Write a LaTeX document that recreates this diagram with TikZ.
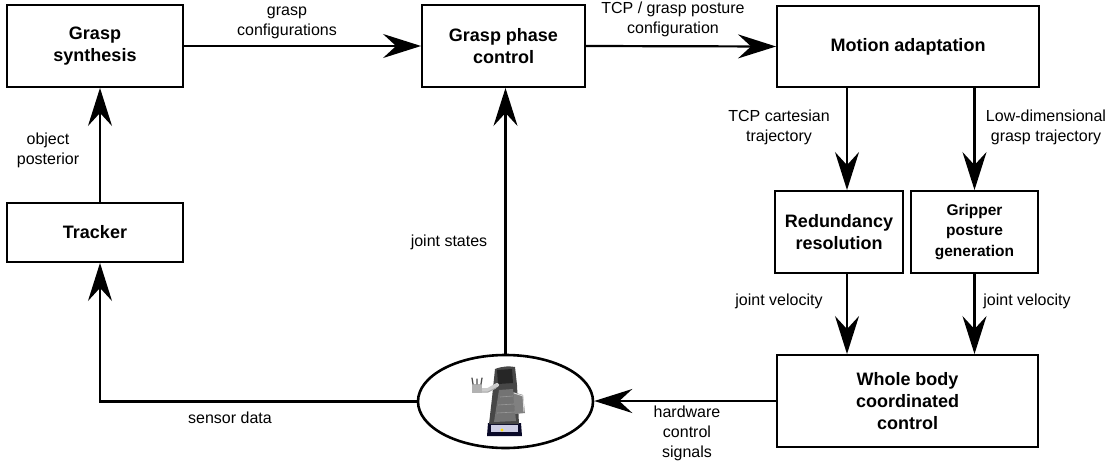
\documentclass[tikz,border=0pt]{standalone}
\usepackage{fontspec}
\setmainfont{Liberation Sans}
\usetikzlibrary{arrows.meta,shapes.geometric,calc}

\tikzset{
  block/.style={draw=black, line width=1.9pt, fill=white, align=center,
    inner sep=2pt, font=\fontsize{18}{22}\selectfont\bfseries},
  smallblock/.style={block, font=\fontsize{15.5}{20.5}\selectfont\bfseries},
  lbl/.style={align=center, inner sep=0pt, font=\fontsize{16}{20}\selectfont},
  arr/.style={line width=2.2pt, -{Stealth[length=38pt,width=24pt,inset=13pt]}},
}

\begin{document}
\begin{tikzpicture}[x=1pt, y=-1pt]
\useasboundingbox (0,0) rectangle (1120,466);

% processing blocks
\node[block, minimum width=176pt, minimum height=82pt] (synth) at (95,46) {Grasp\\synthesis};
\node[block, minimum width=163pt, minimum height=82pt] (phase) at (503.5,46) {Grasp phase\\control};
\node[block, minimum width=262pt, minimum height=81pt] (motion) at (908,46.5) {Motion adaptation};
\node[block, minimum width=176pt, minimum height=59pt] (tracker) at (95,232.5) {Tracker};
\node[block, minimum width=128pt, minimum height=82pt] (redund) at (839,232) {Redundancy\\resolution};
\node[smallblock, minimum width=127pt, minimum height=82pt] (gripper) at (974.5,232) {Gripper\\posture\\generation};
\node[block, minimum width=261pt, minimum height=92pt] (whole) at (907.5,401) {Whole body\\coordinated\\control};

% robot platform
\node[draw=black, line width=2.6pt, ellipse, minimum width=175pt, minimum height=93pt, inner sep=0pt] (robot) at (505.5,401.5) {};
\begin{scope}
  % mobile base
  \fill[gray!40!blue!20!black] (488,423) -- (521,423) -- (522,436) -- (487,436) -- cycle;
  \fill[gray!70!blue!30] (491,425) rectangle (518,432);
  \fill[yellow!80!orange] (502,430) circle (1.7pt);
  % torso column
  \fill[black!72] (495,369) .. controls (503,366) and (509,366) .. (515,367)
     -- (517,385) -- (519,424) -- (489,424) -- (492,398) -- cycle;
  \fill[black!85] (497,370) -- (512,369) -- (513,383) -- (498,384) -- cycle;
  \fill[black!55] (499,390) -- (513,389) -- (516,421) -- (494,422) -- cycle;
  \draw[black!40, line width=0.6pt] (500,397) -- (513,396) (498,405) -- (514,404) (497,413) -- (515,412);
  % arm with gripper
  \draw[gray!40, line width=4pt, line cap=round] (497,385) -- (488,390) -- (480,390);
  \draw[gray!70, line width=1pt] (496,388) -- (488,392) -- (481,392);
  \fill[gray!60] (472,384) rectangle (482,393);
  \draw[black!70, line width=1.3pt, line cap=round] (473,384) -- (472,378) (481,384) -- (482,378) (477,384) -- (477,379);
  % side module
  \fill[black!50] (513,392) -- (523,395) -- (525,413) -- (515,414) -- cycle;
  \draw[gray!25, line width=0.9pt] (514,393) -- (523,396) -- (524,412);
\end{scope}

% routing columns
\coordinate (colT) at (100,0);
\coordinate (colR) at (847,0);

% connectors
\draw[arr] (synth.east) -- (phase.west);
\draw[arr] (phase.east) -- (motion.west);
\draw[arr] (motion.south -| colR) -- (redund.north -| colR);
\draw[arr] (motion.south -| gripper.north) -- (gripper.north);
\draw[arr] (redund.south -| colR) -- (whole.north -| colR);
\draw[arr] (gripper.south) -- (whole.north -| gripper.south);
\draw[arr] (whole.west) -- (whole.west -| robot.east);
\draw[arr] (robot.west) -| (tracker.south -| colT);
\draw[arr] (tracker.north -| colT) -- (synth.south -| colT);
\draw[arr] (robot.north) -- (robot.north |- phase.south);

% connector labels
\node[lbl] (lGrasp) at (287,23) {grasp\\configurations};
\node[lbl] (lTcp) at (673,19) {TCP / grasp posture\\configuration};
\node[lbl] (lObj) at (48,150) {object\\posterior};
\node[lbl] (lJoint) at (449,242) {joint states};
\node[lbl] (lCart) at (779,127) {TCP cartesian\\trajectory};
\node[lbl] (lLow) at (1046,127) {Low-dimensional\\grasp trajectory};
\node[lbl] (lVelA) at (779,301) {joint velocity};
\node[lbl] (lVelB) at (1027,301) {joint velocity};
\node[lbl] (lSens) at (230,418) {sensor data};
\node[lbl] (lHw) at (687,433) {hardware\\control\\signals};
\end{tikzpicture}
\end{document}
